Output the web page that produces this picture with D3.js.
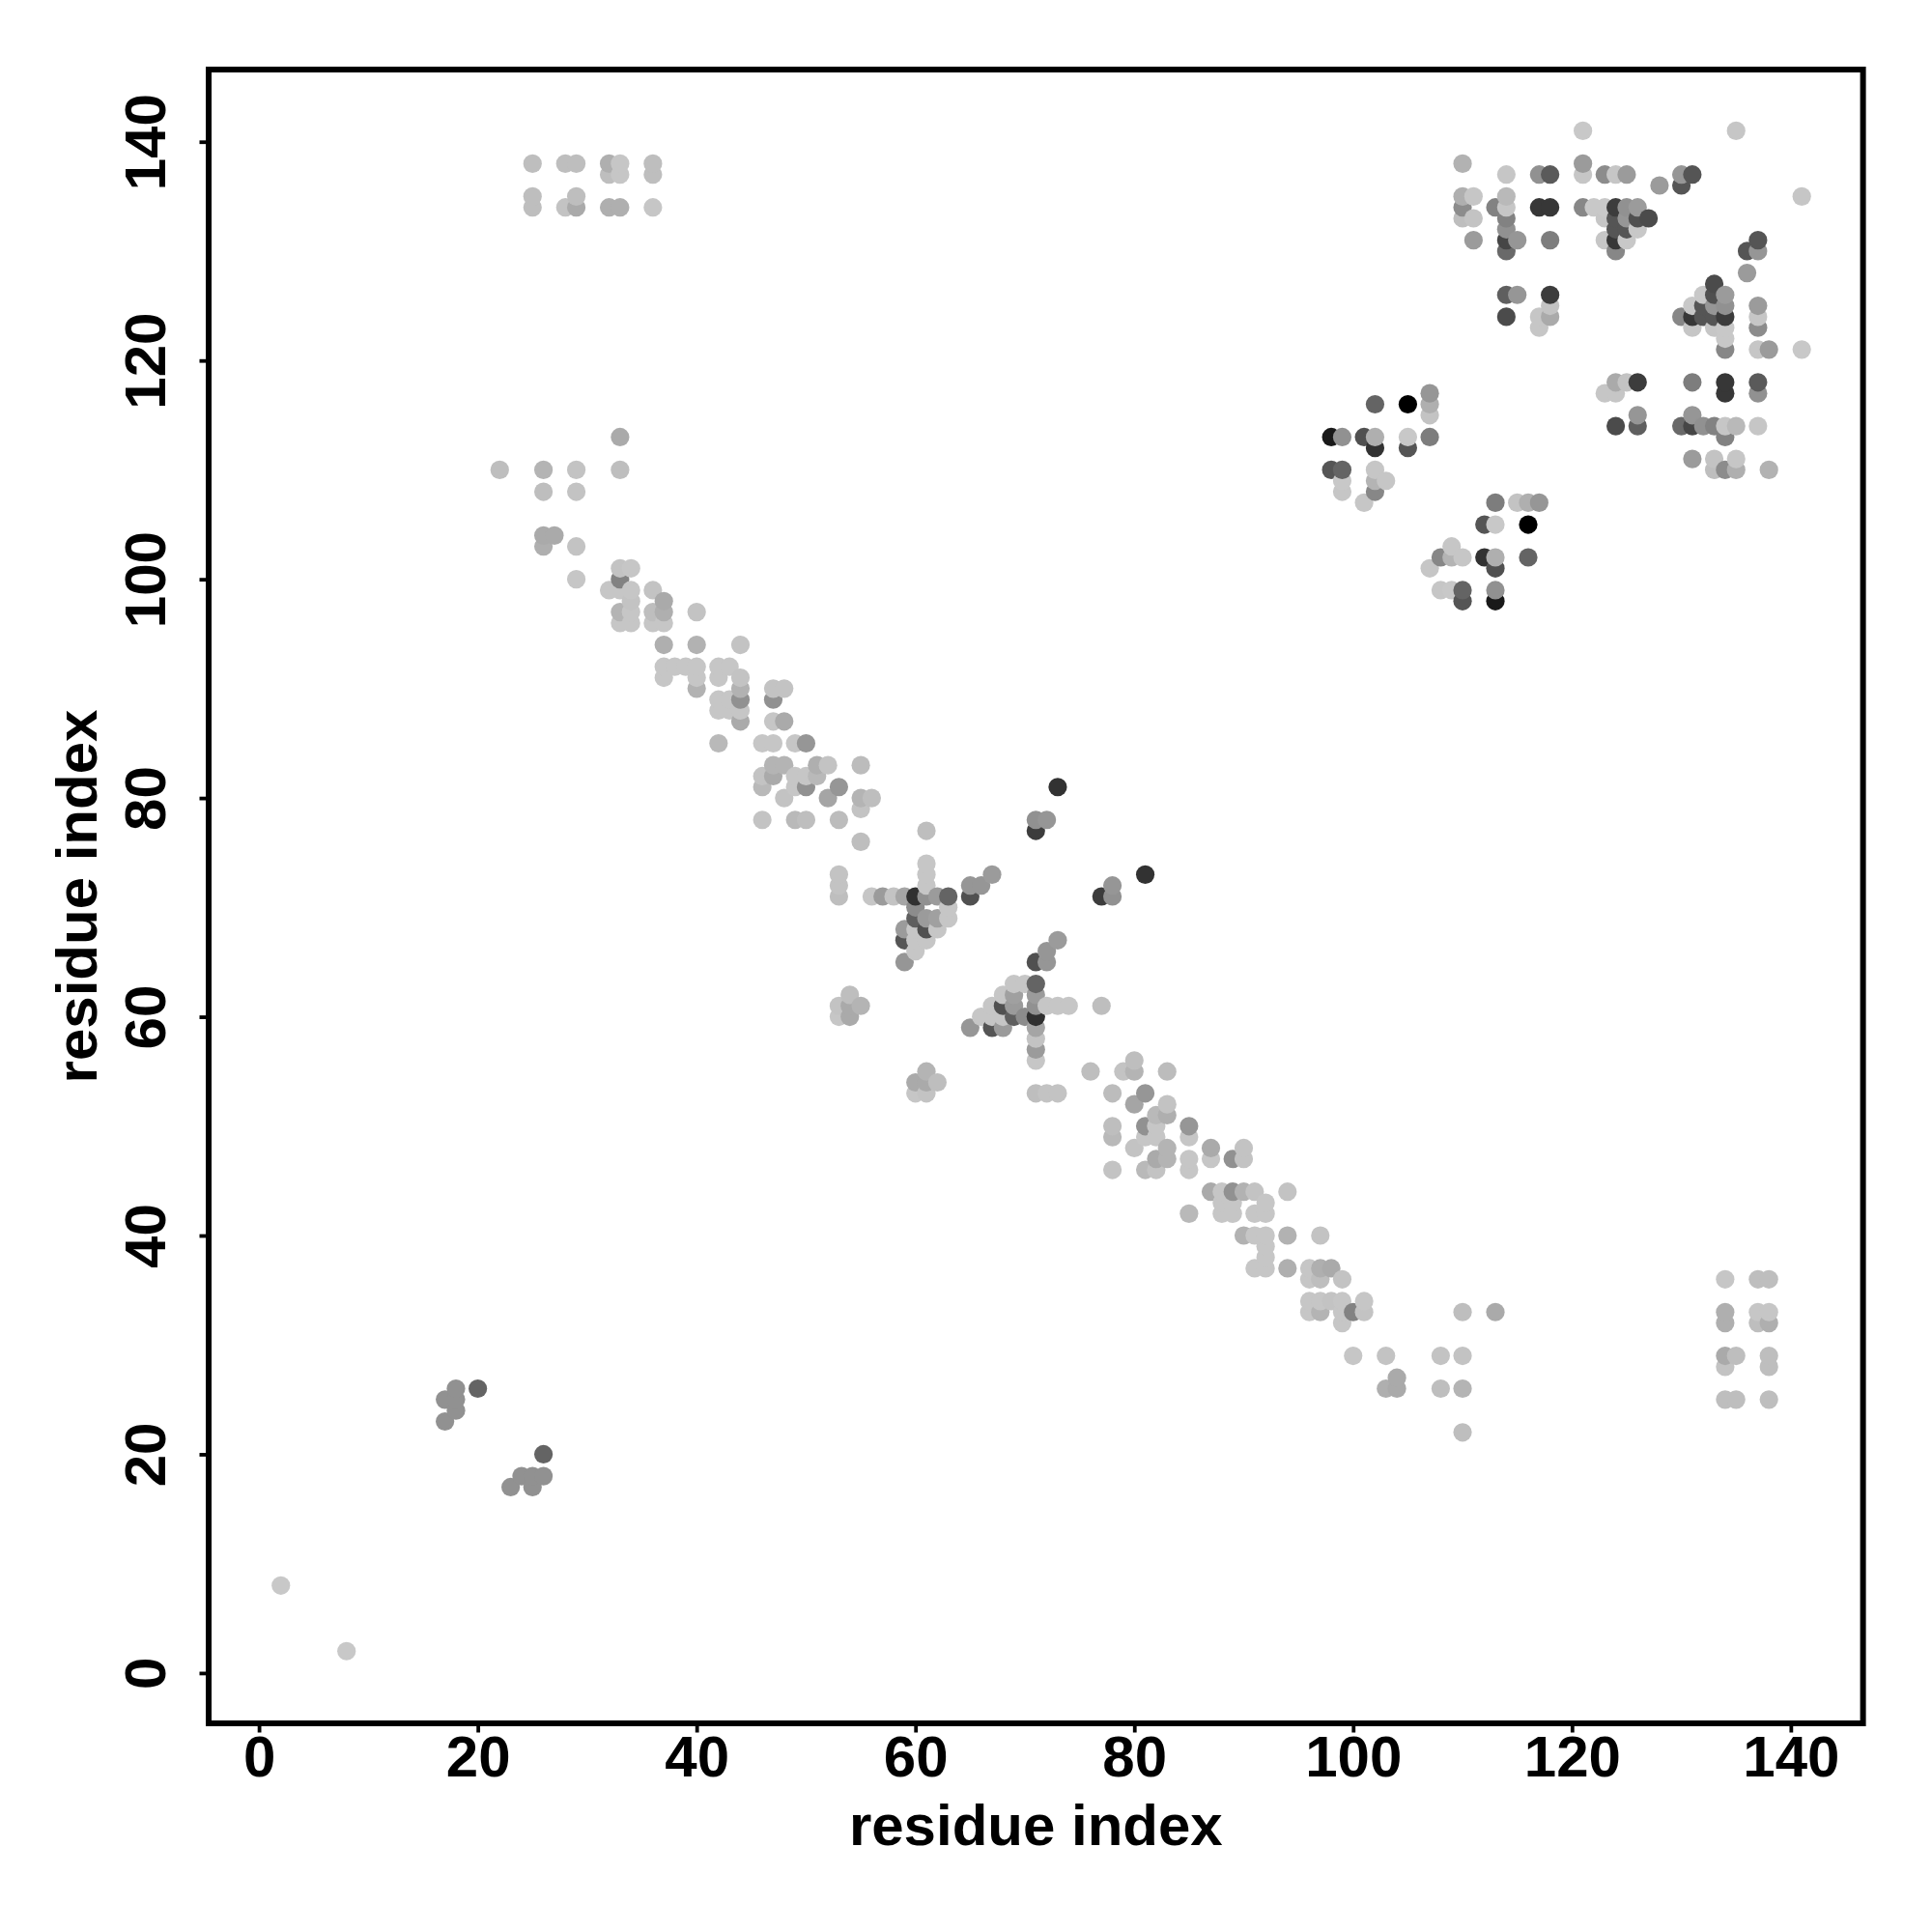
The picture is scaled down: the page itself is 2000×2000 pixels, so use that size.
<!DOCTYPE html>
<html>
<head>
<meta charset="utf-8">
<script src="https://cdn.jsdelivr.net/npm/d3@7/dist/d3.min.js"></script>
<style>html,body{margin:0;padding:0;background:#fff}svg{display:block}</style>
</head>
<body>
<svg id="chart" width="2000" height="2000"></svg>
<script>
// Each contact: [residue i, residue j, grey level]. The map is symmetric, so each pair is listed once.
const tickLabels = [0, 20, 40, 60, 80, 100, 120, 140];
const axisTitle = "residue index";

const nTerminal = [[2,8,200],[17,23,145],[17,25,145],[18,24,145],[18,25,145],[18,26,145],[20,26,100]];

const farBlock = [[25,134,190],[25,135,190],[25,138,190],[28,134,195],[28,138,190],[29,134,170],[29,135,190],[29,138,190],
  [32,134,175],[32,137,190],[32,138,175],[33,134,175],[33,137,198],[33,138,198],[36,134,198],[36,137,190],[36,138,190]];

const stripA = [[22,110,190],[26,103,175],[26,104,170],[26,108,190],[26,110,180],[27,104,170],[29,100,198],[29,103,195],
  [29,108,195],[29,110,195],[33,100,130],[33,101,195],[33,110,190],[33,113,170],[34,101,198],[32,99,198],[33,99,198],
  [34,99,198],[36,99,195],[34,98,195],[37,98,170],[33,97,180],[34,97,198],[36,97,190],[37,97,175],[40,97,195],
  [33,96,198],[34,96,198],[36,96,198],[37,96,198]];

const stripB = [[37,94,175],[40,94,178],[44,94,195],[37,92,198],[38,92,198],[39,92,198],[40,92,198],[42,92,198],[43,92,198],
  [37,91,198],[40,91,198],[42,91,198],[44,91,195],[40,90,178],[44,90,178],[47,90,195],[48,90,195],[42,89,198],[43,89,198],
  [44,89,145],[47,89,145],[42,88,198],[43,88,198],[44,88,198],[44,87,170],[47,87,198],[48,87,170]];

const stripC = [[42,85,185],[46,85,198],[47,85,198],[49,85,198],[50,85,150],[47,83,180],[48,83,180],[51,83,175],[52,83,195],
  [55,83,188],[46,82,195],[47,82,170],[49,82,198],[50,82,198],[51,82,185],[46,81,185],[49,81,198],[50,81,145],[53,81,150],
  [48,80,195],[52,80,165],[55,80,180],[56,80,190],[55,79,195],[46,78,195],[49,78,185],[50,78,190],[53,78,188],[55,76,190]];

const crossing = [[53,60,198],[53,61,195],[54,60,170],[54,61,170],[54,62,190],[55,61,180],[53,71,190],[53,72,195],[53,73,195],
  [56,71,198],[57,71,155],[58,71,195],[59,71,165],[60,71,48],[61,71,145],[62,71,155],[63,71,100],
  [59,65,150],[59,67,85],[59,68,155],[60,66,198],[60,67,198],[60,68,198],[60,69,95],[60,70,140],
  [61,67,198],[61,68,80],[61,69,155],[61,72,198],[61,73,198],[61,74,198],[61,77,190],[62,68,198],[62,69,160],
  [63,69,198],[63,70,198],[65,71,80],[65,72,150],[66,72,150],[67,73,155],[71,77,60],[71,78,145],[72,78,150],[73,81,50]];

const hairpin = [[98,110,85],[98,113,25],[99,108,198],[99,109,200],[99,110,100],[99,113,145],[101,107,198],[101,113,80],
  [102,108,135],[102,109,180],[102,110,198],[102,112,50],[102,113,175],[102,116,100],[103,109,198],[105,112,85],
  [105,113,200],[105,116,0],[107,113,125],[107,115,195],[107,116,175],[107,117,150]];

const cTerminalA = [[110,133,190],[110,134,140],[110,135,175],[110,138,178],[111,131,155],[111,133,195],[111,135,198],
  [113,134,130],[114,124,75],[114,126,95],[114,130,105],[114,131,70],[114,132,145],[114,133,130],[114,134,198],
  [114,135,185],[114,137,198],[115,126,150],[115,131,150],[117,123,198],[117,124,198],[117,134,55],[117,137,145],
  [118,124,170],[118,125,195],[118,126,60],[118,131,125],[118,134,55],[118,137,90]];

const cTerminalB = [[121,134,135],[121,137,198],[121,138,155],[121,141,200],[122,134,200],[123,131,198],[123,133,198],
  [123,134,200],[123,137,140],[124,130,135],[124,131,55],[124,132,85],[124,133,85],[124,134,60],[124,137,198],
  [125,131,200],[125,132,85],[125,133,150],[125,134,145],[125,137,155],[126,132,200],[126,133,80],[126,134,155],
  [127,133,75],[128,136,155],[130,136,85],[130,137,150],[131,137,85],[135,141,198]];

const contacts = [].concat(nTerminal, farBlock, stripA, stripB, stripC, crossing, hairpin, cTerminalA, cTerminalB);

// Both halves of the symmetric map, in the stacking order of the original (by x, then y).
const points = contacts
  .flatMap(([i, j, g]) => [{x: i, y: j, g}, {x: j, y: i, g}])
  .sort((a, b) => d3.ascending(a.x, b.x) || d3.ascending(a.y, b.y));

const svg = d3.select("#chart");
const frame = {left: 216, right: 1928.6, top: 72, bottom: 1784};
const x = d3.scaleLinear().domain([-4.6, 146.6]).range([frame.left, frame.right]);
const y = d3.scaleLinear().domain([-4.6, 146.6]).range([frame.bottom, frame.top]);
const font = "'Liberation Sans', Arial, sans-serif";

svg.append("rect").attr("width", 2000).attr("height", 2000).attr("fill", "#fff");

svg.append("g").selectAll("circle").data(points).join("circle")
  .attr("cx", d => x(d.x))
  .attr("cy", d => y(d.y))
  .attr("r", 9.6)
  .attr("fill", d => d3.rgb(d.g, d.g, d.g));

const gx = svg.append("g").attr("transform", `translate(0,${frame.bottom})`)
  .call(d3.axisBottom(x).tickValues(tickLabels).tickSize(9.5).tickSizeOuter(0));
gx.select(".domain").remove();
gx.selectAll(".tick line").attr("stroke", "#000").attr("stroke-width", 3.8);
gx.selectAll(".tick text")
  .attr("y", 55).attr("dy", 0).attr("fill", "#000")
  .attr("font-family", font).attr("font-weight", "bold").attr("font-size", 60)
  .attr("text-anchor", "middle");

const gy = svg.append("g").attr("transform", `translate(${frame.left},0)`)
  .call(d3.axisLeft(y).tickValues(tickLabels).tickSize(9.5).tickSizeOuter(0));
gy.select(".domain").remove();
gy.selectAll(".tick line").attr("stroke", "#000").attr("stroke-width", 3.8);
gy.selectAll(".tick text")
  .attr("x", 0).attr("dx", 0).attr("dy", 0).attr("y", 0)
  .attr("transform", `translate(-45.5,0) rotate(-90)`)
  .attr("fill", "#000")
  .attr("font-family", font).attr("font-weight", "bold").attr("font-size", 60)
  .attr("text-anchor", "middle");

svg.append("rect")
  .attr("x", frame.left).attr("y", frame.top)
  .attr("width", frame.right - frame.left).attr("height", frame.bottom - frame.top)
  .attr("fill", "none").attr("stroke", "#000").attr("stroke-width", 6);

svg.append("text").text(axisTitle)
  .attr("x", (frame.left + frame.right) / 2).attr("y", 1910)
  .attr("text-anchor", "middle").attr("font-family", font)
  .attr("font-weight", "bold").attr("font-size", 60).attr("fill", "#000");

svg.append("text").text(axisTitle)
  .attr("transform", `translate(99.5,${(frame.top + frame.bottom) / 2}) rotate(-90)`)
  .attr("text-anchor", "middle").attr("font-family", font)
  .attr("font-weight", "bold").attr("font-size", 60).attr("fill", "#000");
</script>
</body>
</html>
